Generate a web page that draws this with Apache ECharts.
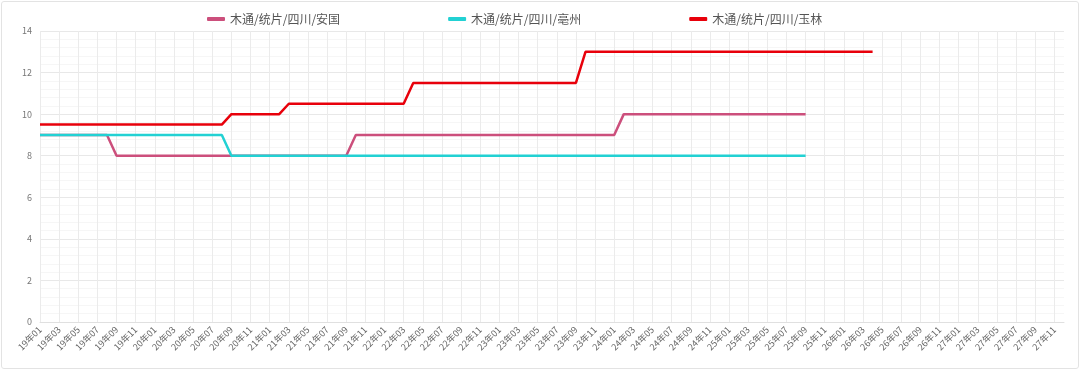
<!DOCTYPE html>
<html>
<head>
<meta charset="utf-8">
<script src="https://cdn.jsdelivr.net/npm/echarts@6/dist/echarts.min.js"></script>
<style>
html,body{margin:0;padding:0;background:#fff;}
#chart{position:absolute;left:0;top:0;width:1080px;height:374px;}
#frame{position:absolute;left:1px;top:1px;width:1076px;height:366px;border:1px solid #e3e3e3;border-radius:3px;pointer-events:none;}
</style>
</head>
<body>
<div id="chart"></div>
<div id="frame"></div>
<script>
// Categories: monthly, 19年01 .. 27年12
const years = ['19','20','21','22','23','24','25','26','27'];
const months = ['01','02','03','04','05','06','07','08','09','10','11','12'];
const categories = [];
years.forEach(y => months.forEach(m => categories.push(y + '年' + m)));

const seriesNames = ['木通/统片/四川/安国', '木通/统片/四川/亳州', '木通/统片/四川/玉林'];

// 安国 (19年01 .. 25年09)
const anguo = [
  9,9,9,9,9,9,9,9,8,8,8,8,          // 2019
  8,8,8,8,8,8,8,8,8,8,8,8,          // 2020
  8,8,8,8,8,8,8,8,8,9,9,9,          // 2021
  9,9,9,9,9,9,9,9,9,9,9,9,          // 2022
  9,9,9,9,9,9,9,9,9,9,9,9,          // 2023
  9,10,10,10,10,10,10,10,10,10,10,10, // 2024
  10,10,10,10,10,10,10,10,10        // 2025 (to 09)
];
// 亳州 (19年01 .. 25年09)
const bozhou = [
  9,9,9,9,9,9,9,9,9,9,9,9,          // 2019
  9,9,9,9,9,9,9,9,8,8,8,8,          // 2020
  8,8,8,8,8,8,8,8,8,8,8,8,          // 2021
  8,8,8,8,8,8,8,8,8,8,8,8,          // 2022
  8,8,8,8,8,8,8,8,8,8,8,8,          // 2023
  8,8,8,8,8,8,8,8,8,8,8,8,          // 2024
  8,8,8,8,8,8,8,8,8                 // 2025 (to 09)
];
// 玉林 (19年01 .. 26年04)
const yulin = [
  9.5,9.5,9.5,9.5,9.5,9.5,9.5,9.5,9.5,9.5,9.5,9.5,       // 2019
  9.5,9.5,9.5,9.5,9.5,9.5,9.5,9.5,10,10,10,10,           // 2020
  10,10,10.5,10.5,10.5,10.5,10.5,10.5,10.5,10.5,10.5,10.5, // 2021
  10.5,10.5,10.5,11.5,11.5,11.5,11.5,11.5,11.5,11.5,11.5,11.5, // 2022
  11.5,11.5,11.5,11.5,11.5,11.5,11.5,11.5,11.5,13,13,13, // 2023
  13,13,13,13,13,13,13,13,13,13,13,13,                   // 2024
  13,13,13,13,13,13,13,13,13,13,13,13,                   // 2025
  13,13,13,13                                            // 2026 (to 04)
];

const colors = ['#cc4f7c', '#22d1d3', '#e8000b'];

const chart = echarts.init(document.getElementById('chart'), null, {renderer: 'canvas'});
const font = '"Noto Sans CJK SC", "Noto Sans", sans-serif';
chart.setOption({
  animation: false,
  backgroundColor: '#fff',
  color: colors,
  textStyle: {fontFamily: font},
  legend: {
    top: 8,
    left: 202,
    itemGap: 108,
    itemWidth: 18,
    itemHeight: 4,
    icon: 'roundRect',
    textStyle: {fontSize: 12, color: '#555', fontFamily: font},
    data: seriesNames
  },
  grid: {left: 40, right: 16, top: 31, bottom: 52, containLabel: false},
  xAxis: {
    type: 'category',
    data: categories,
    boundaryGap: false,
    axisLine: {lineStyle: {color: '#e0e0e0'}},
    axisTick: {show: false},
    axisLabel: {interval: 1, rotate: 45, fontSize: 9, color: '#666', margin: 6, fontFamily: font},
    splitLine: {show: true, interval: 1, lineStyle: {color: '#ebebeb', width: 1}}
  },
  yAxis: {
    type: 'value',
    min: 0, max: 14, interval: 2,
    axisLine: {show: false},
    axisTick: {show: false},
    axisLabel: {fontSize: 9, color: '#777', margin: 8, fontFamily: font},
    splitLine: {lineStyle: {color: '#e8e8e8'}},
    minorTick: {show: false, splitNumber: 5},
    minorSplitLine: {show: true, lineStyle: {color: '#f6f6f6'}}
  },
  series: [
    {name: seriesNames[0], type: 'line', data: anguo, symbol: 'none', lineStyle: {width: 2.5, color: colors[0]}, itemStyle: {color: colors[0]}, z: 2},
    {name: seriesNames[1], type: 'line', data: bozhou, symbol: 'none', lineStyle: {width: 2.5, color: colors[1]}, itemStyle: {color: colors[1]}, z: 3},
    {name: seriesNames[2], type: 'line', data: yulin, symbol: 'none', lineStyle: {width: 2.5, color: colors[2]}, itemStyle: {color: colors[2]}, z: 4}
  ]
});
</script>
</body>
</html>
